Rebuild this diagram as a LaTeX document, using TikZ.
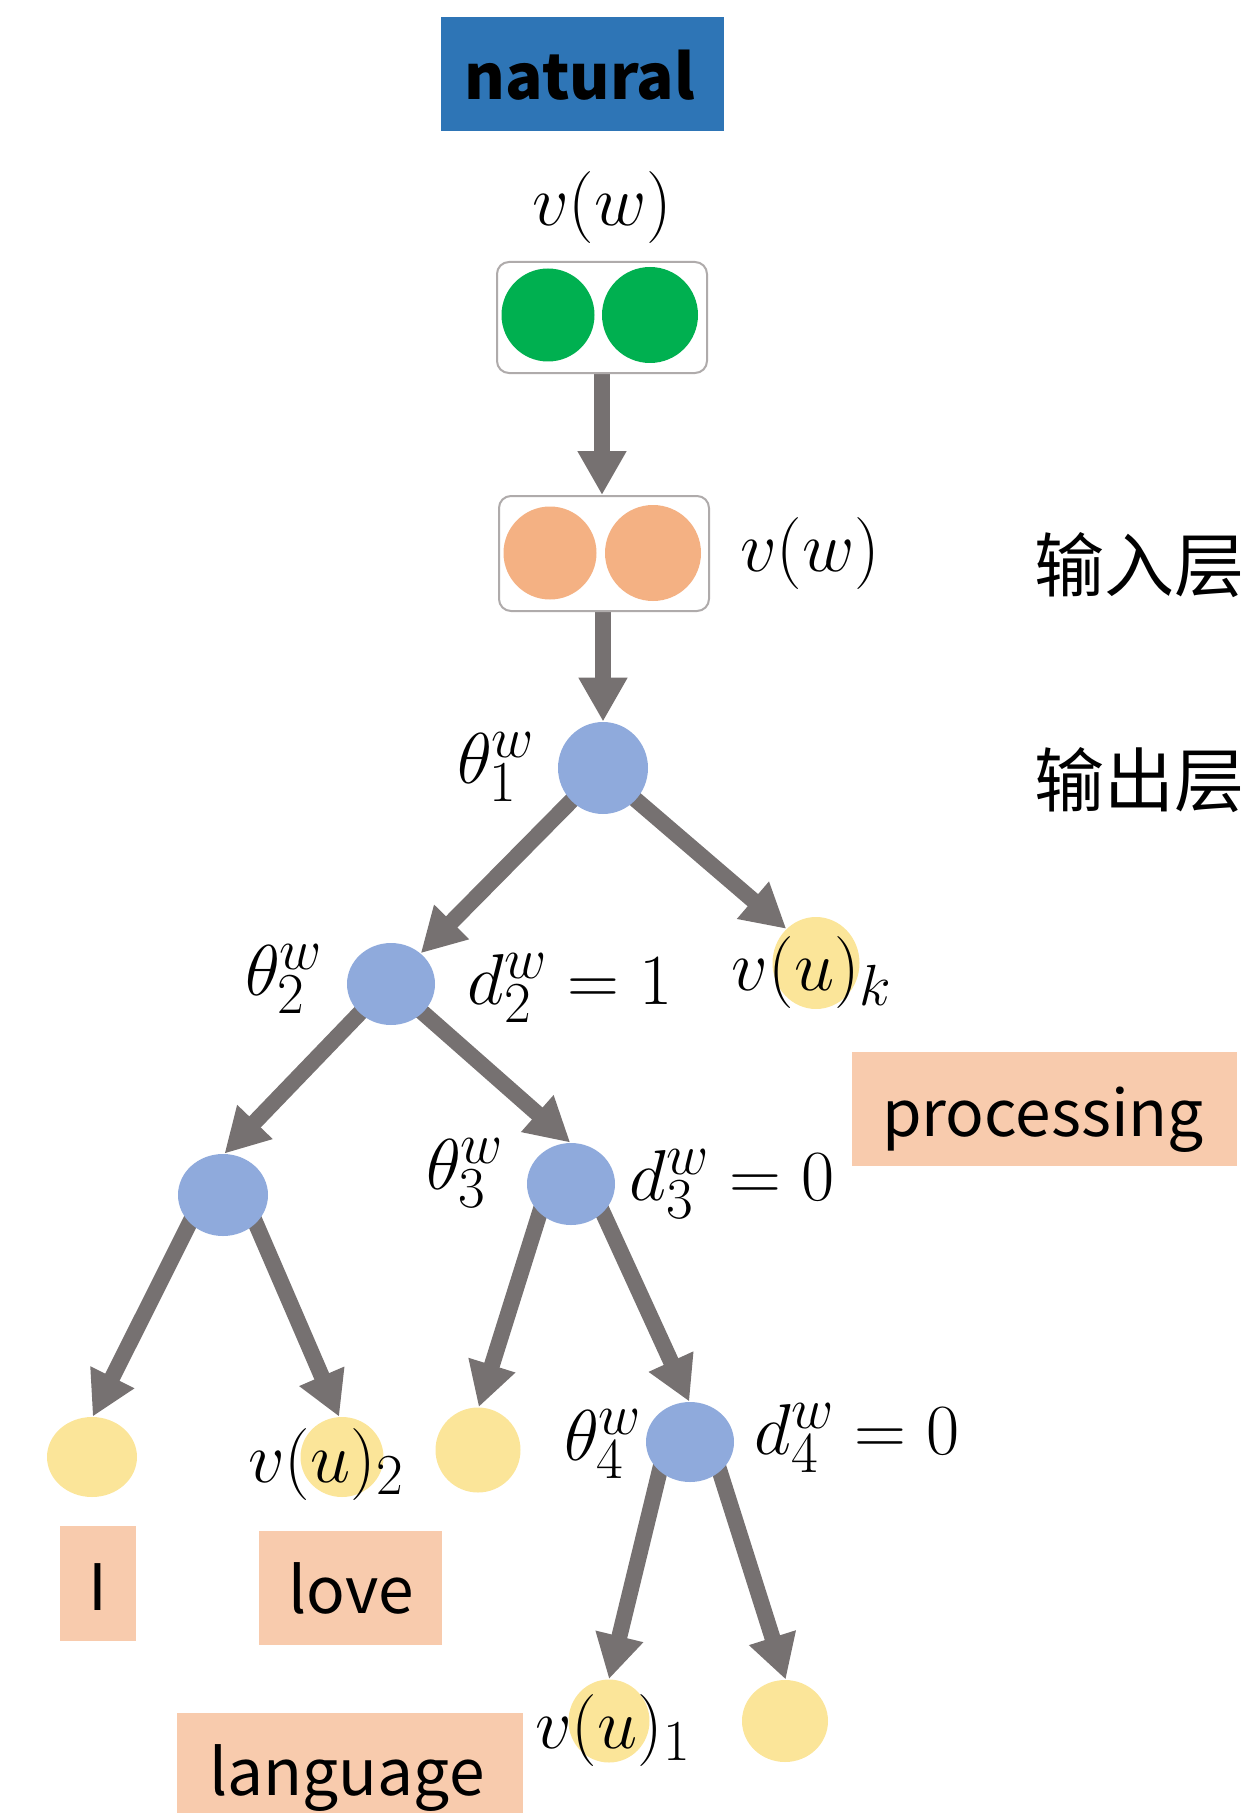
\RequirePackage{fix-cm}
\documentclass[tikz,border=0pt]{standalone}
\usepackage{fontspec}
\newfontfamily\cjk{Noto Sans CJK SC}
\DeclareMathSizes{36}{36}{29}{22}
\usetikzlibrary{arrows.meta,shapes.geometric}
\definecolor{boxblue}{HTML}{2E75B6}
\definecolor{dotgreen}{HTML}{00B050}
\definecolor{dotorange}{HTML}{F4B183}
\definecolor{treeblue}{HTML}{8FAADC}
\definecolor{leafyellow}{HTML}{FBE599}
\definecolor{wordpeach}{HTML}{F8CBAD}
\definecolor{arrowgray}{HTML}{767171}
\definecolor{framegray}{HTML}{AFABAB}
\pgfdeclarelayer{background}
\pgfsetlayers{background,main}

\begin{document}
\begin{tikzpicture}[x=0.5pt,y=-0.5pt,
  blob/.style={ellipse, inner sep=0pt, draw=none},
  tnode/.style={blob, fill=treeblue},
  leafnode/.style={blob, fill=leafyellow},
  disc/.style={circle, inner sep=0pt, minimum size=#1},
  cellframe/.style={rectangle, rounded corners=6pt, draw=framegray, fill=white,
    line width=1pt, minimum width=105pt, minimum height=#1},
  wordbox/.style={rectangle, fill=wordpeach, inner sep=0pt},
  mathlbl/.style={inner sep=0pt, font=\fontsize{36}{40}\selectfont},
  wordtxt/.style={inner sep=0pt, font=\cjk\fontsize{32}{38}\selectfont},
  layerlbl/.style={inner sep=0pt, font=\cjk\fontsize{35}{40}\selectfont},
  link/.style={draw=arrowgray, line width=8pt,
    -{Triangle[length=22pt,width=23pt]}, shorten <=-5pt}
]
\useasboundingbox (0,0) rectangle (1257,1813);

% target word
\node[wordbox, fill=boxblue, minimum width=141.5pt, minimum height=57pt] (natbox) at (582.5,74) {};
\node[anchor=base, inner sep=0pt, font=\cjk\bfseries\fontsize{31}{38}\selectfont] (nat) at (580,100) {natural};

% word vector
\node[mathlbl] (vw1) at (602,208) {$v(w)$};
\node[cellframe=55.5pt] (gframe) at (602,317.5) {};
\node[disc=46.5pt, fill=dotgreen] (g1) at (548,315) {};
\node[disc=48pt, fill=dotgreen] (g2) at (650,315) {};

% input layer
\node[cellframe=57.5pt] (oframe) at (604,553.5) {};
\node[disc=46.5pt, fill=dotorange] (o1) at (550,553) {};
\node[disc=48pt, fill=dotorange] (o2) at (653,553) {};
\node[mathlbl] (vw2) at (810,553) {$v(w)$};

\node[layerlbl] (inl) at (1139,565) {输入层};
\node[layerlbl] (outl) at (1139,780) {输出层};

% inner nodes of the Huffman tree
\node[tnode, minimum width=45pt, minimum height=46pt] (t1) at (603,768) {};
\node[tnode, minimum width=44pt, minimum height=41pt] (t2) at (391,984) {};
\node[tnode, minimum width=45pt, minimum height=41pt] (n5) at (223,1195) {};
\node[tnode, minimum width=44pt, minimum height=41pt] (t3) at (571,1184) {};
\node[tnode, minimum width=44pt, minimum height=40pt] (t4) at (690,1442) {};

% leaves
\node[leafnode, minimum width=43.5pt, minimum height=46pt] (lk) at (816,963) {};
\node[leafnode, minimum width=45pt, minimum height=40pt] (lI) at (92,1457) {};
\node[leafnode, minimum width=41.5pt, minimum height=40pt] (l2) at (342,1457) {};
\node[leafnode, minimum width=42.5pt, minimum height=42.5pt] (l3) at (478,1450) {};
\node[leafnode, minimum width=40.5pt, minimum height=41.5pt] (l1) at (609,1721) {};
\node[leafnode, minimum width=43pt, minimum height=41pt] (l0) at (785,1721) {};

% labels
\node[mathlbl] (th1) at (496,767) {$\theta_1^w$};
\node[mathlbl] (th2) at (284,979) {$\theta_2^w$};
\node[mathlbl] (d2) at (570,988) {$d_2^w = 1$};
\node[mathlbl, anchor=base] (vuk) at (812,990) {$v(u)_k$};
\node[mathlbl] (th3) at (465,1173) {$\theta_3^w$};
\node[mathlbl] (d3) at (732,1184) {$d_3^w = 0$};
\node[mathlbl] (th4) at (603,1444) {$\theta_4^w$};
\node[mathlbl] (d4) at (857,1438) {$d_4^w = 0$};
\node[mathlbl, anchor=base] (vu2) at (326,1482) {$v(u)_2$};
\node[mathlbl, anchor=base] (vu1) at (613,1748) {$v(u)_1$};

% words
\node[wordbox, minimum width=192.5pt, minimum height=57pt] (procbox) at (1044.5,1109) {};
\node[wordtxt, anchor=base] (proc) at (1043,1136) {processing};
\node[wordbox, minimum width=38pt, minimum height=57.5pt] (Ibox) at (98,1583.5) {};
\node[wordtxt, anchor=base] (Itxt) at (98,1610) {I};
\node[wordbox, minimum width=91.5pt, minimum height=57pt] (lovebox) at (350.5,1588) {};
\node[wordtxt, anchor=base] (love) at (351,1613) {love};
\node[wordbox, minimum width=173pt, minimum height=60pt] (langbox) at (350,1773) {};
\node[wordtxt, anchor=base] (lang) at (347,1795) {language};

% connectors
\begin{pgfonlayer}{background}
\draw[link] (gframe.south) -- (gframe.south |- oframe.north);
\draw[link] (t1.north |- oframe.south) -- (t1.north);
\draw[link] (t1.226) -- (t2.46);
\draw[link] (t1.316) -- (lk.131);
\draw[link] (t2.223) -- (n5.88);
\draw[link] (t2.318) -- (t3.91);
\draw[link] (n5.220) -- (lI.89);
\draw[link] (n5.319) -- (l2.94);
\draw[link] (t3.223) -- (l3.89);
\draw[link] (t3.318) -- (t4.91);
\draw[link] (t4.224) -- (l1.90);
\draw[link] (t4.315) -- (l0.89);
\end{pgfonlayer}
\end{tikzpicture}
\end{document}
